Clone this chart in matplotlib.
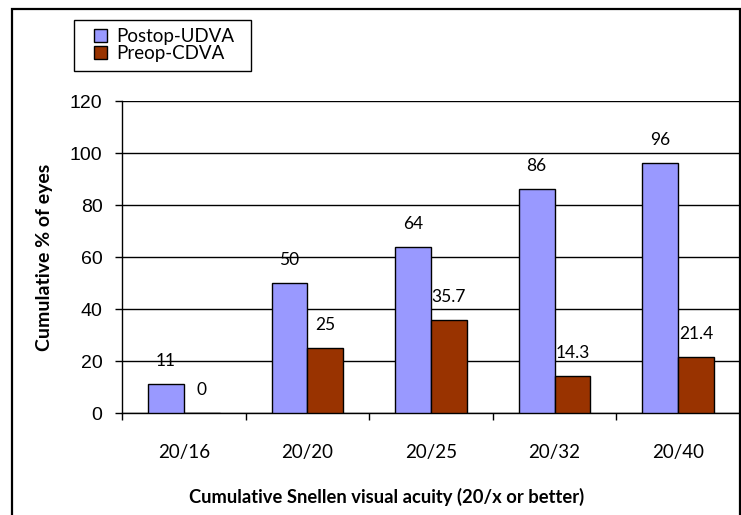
import numpy as np
import matplotlib
matplotlib.use("Agg")
import matplotlib.pyplot as plt
from matplotlib.patches import Rectangle
from matplotlib.container import BarContainer
from matplotlib.legend_handler import HandlerPatch

categories = ["20/16", "20/20", "20/25", "20/32", "20/40"]
postop_udva = [11, 50, 64, 86, 96]
preop_cdva = [0, 25, 35.7, 14.3, 21.4]
yticks = [0, 20, 40, 60, 80, 100, 120]

fig = plt.figure(figsize=(7.41, 5.15), dpi=100, facecolor='w')
ax = fig.add_axes([122/741, 1 - 413/515, (740 - 122)/741, (413 - 101)/515])

x = np.arange(len(categories))
w = 0.29
b1 = ax.bar(x - w/2, postop_udva, w, color='#9999FF', edgecolor='black', linewidth=1, label='Postop-UDVA', zorder=3)
b2 = ax.bar(x + w/2, preop_cdva, w, color='#993300', edgecolor='black', linewidth=1, label='Preop-CDVA', zorder=3)

# data labels above each bar
for bars, vals in [(b1, postop_udva), (b2, preop_cdva)]:
    for rect, v in zip(bars, vals):
        ax.annotate(f"{v:g}", (rect.get_x() + rect.get_width()/2, v), xytext=(0, 16.5),
                    textcoords='offset points', ha='center', va='center',
                    fontsize=12.5, family='Lato', zorder=4)

ax.set_xlim(-0.5, len(categories) - 0.5)
ax.set_ylim(0, 120)
ax.set_yticks(yticks)
ax.set_yticklabels([str(t) for t in yticks], family='Liberation Sans', fontsize=14)
ax.tick_params(axis='y', direction='out', length=5, width=1, pad=9)
ax.yaxis.grid(True, color='black', linewidth=1, zorder=0)
ax.set_axisbelow(True)

ax.set_xticks(x)
ax.set_xticklabels(categories, family='Lato', fontsize=13.5)
ax.tick_params(axis='x', which='major', length=0, pad=22)
ax.set_xticks(np.arange(len(categories) + 1) - 0.5, minor=True)
ax.tick_params(axis='x', which='minor', direction='out', length=5, width=1)

for s in ['top', 'right']:
    ax.spines[s].set_visible(False)
for s in ['left', 'bottom']:
    ax.spines[s].set_linewidth(1)
    ax.spines[s].set_color('black')

fig.text(45/741, 1 - 257/515, 'Cumulative % of eyes', rotation=90, ha='center', va='center',
         fontsize=14, fontweight='bold', family='Lato')
fig.text(387/741, 1 - 497/515, 'Cumulative Snellen visual acuity (20/x or better)', ha='center', va='center',
         fontsize=13.2, fontweight='bold', family='Lato')


def square(legend, orig_handle, xdescent, ydescent, width, height, fontsize):
    s = 13 * 72 / 100
    return Rectangle((-xdescent + width - s, -ydescent + (height - s) / 2), s, s)


def first_child(legend_handle, orig_handle):
    legend_handle.update_from(orig_handle.patches[0])


leg = fig.legend(handles=[b1, b2], loc='upper left', bbox_to_anchor=(82/741, 1 - 28/515),
                 prop={'family': 'Lato', 'size': 13.5}, frameon=False,
                 handlelength=1.35, handleheight=0.7, handletextpad=0.45, labelspacing=-0.02,
                 borderpad=0, borderaxespad=0,
                 handler_map={BarContainer: HandlerPatch(patch_func=square, update_func=first_child)})

# legend box
fig.patches.append(Rectangle((74/741, 1 - 71/515), (251 - 74)/741, 51/515, transform=fig.transFigure,
                             fill=False, edgecolor='black', linewidth=1, zorder=5))
# chart area border
fig.patches.append(Rectangle((12/741, -0.05), (740 - 12)/741, 1 - 9/515 + 0.05, transform=fig.transFigure,
                             fill=False, edgecolor='black', linewidth=1.6, clip_on=False))

fig.savefig('out.png', dpi=100)
